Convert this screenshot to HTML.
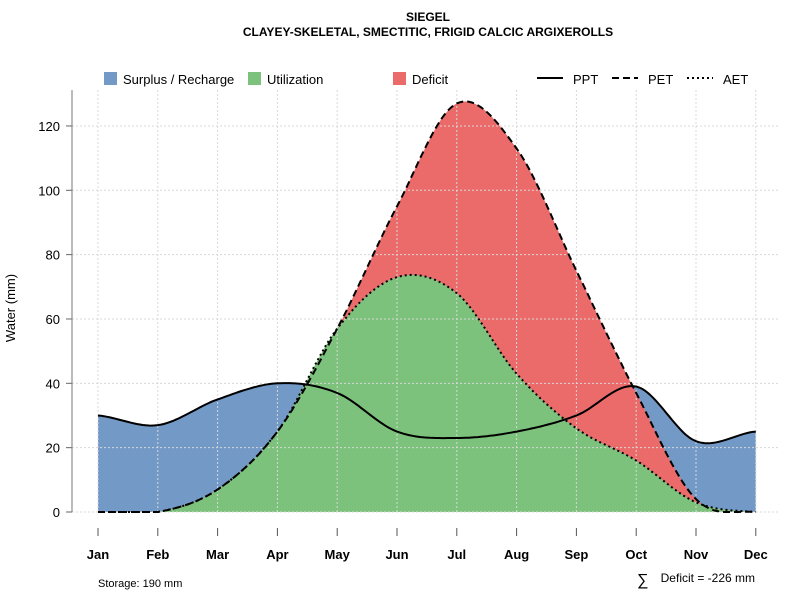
<!DOCTYPE html>
<html><head><meta charset="utf-8"><style>
body{margin:0;background:#fff;}
svg{display:block;font-family:"Liberation Sans",Arial,sans-serif;}
</style></head><body>
<svg id="chart" width="800" height="600">
<text x="428" y="21" text-anchor="middle" font-size="12" font-weight="bold">SIEGEL</text>
<text x="428" y="36" text-anchor="middle" font-size="12" font-weight="bold">CLAYEY-SKELETAL, SMECTITIC, FRIGID CALCIC ARGIXEROLLS</text>
<g id="areas"></g>
<g id="grid"></g>
<g id="lines"></g>
<g id="axes"></g>
<g font-size="13">
<rect x="104" y="72" width="13" height="13" fill="#7399c6"/>
<text x="123" y="84">Surplus / Recharge</text>
<rect x="248" y="72" width="13" height="13" fill="#7dc27c"/>
<text x="267" y="84">Utilization</text>
<rect x="393" y="72" width="13" height="13" fill="#eb6b6b"/>
<text x="412" y="84">Deficit</text>
<line x1="537" y1="78" x2="563" y2="78" stroke="#000" stroke-width="2"/>
<text x="573" y="84">PPT</text>
<line x1="612" y1="78" x2="638" y2="78" stroke="#000" stroke-width="2" stroke-dasharray="7,4"/>
<text x="648" y="84">PET</text>
<line x1="687" y1="78" x2="713" y2="78" stroke="#000" stroke-width="2" stroke-dasharray="2,3"/>
<text x="723" y="84">AET</text>
</g>
<text x="15" y="308" font-size="13" text-anchor="middle" transform="rotate(-90 15 308)">Water (mm)</text>
<text x="98" y="587" font-size="11">Storage: 190 mm</text>
<text x="637" y="585" font-size="16">∑</text>
<text x="755" y="582" font-size="12" text-anchor="end">Deficit = -226 mm</text>
</svg>
<script>
const months=["Jan","Feb","Mar","Apr","May","Jun","Jul","Aug","Sep","Oct","Nov","Dec"];
const ppt=[30,27,35,40,37,25,23,25,30,39,22,25];
const pet=[0,0,7,25,57,95,127,113,75,37,4,0];
const aet=[0,0,7,25,57,73,68,43,26,16,3,0];
const yTicks=[0,20,40,60,80,100,120];
const NS="http://www.w3.org/2000/svg";
const x=i=>98+i*59.8;
const y=v=>512-v*3.217;
function mk(tag,attrs,parent,name){const e=document.createElementNS(NS,tag);for(const k in attrs)e.setAttribute(k,attrs[k]);


parent.appendChild(e);return e;}
function smooth(d){const pts=[];const n=d.length;
for(let i=0;i<n-1;i++){const p0=d[Math.max(i-1,0)],p1=d[i],p2=d[i+1],p3=d[Math.min(i+2,n-1)];
for(let s=0;s<20;s++){const t=s/20,t2=t*t,t3=t2*t;
let v=0.5*((2*p1)+(-p0+p2)*t+(2*p0-5*p1+4*p2-p3)*t2+(-p0+3*p1-3*p2+p3)*t3);
pts.push([x(i+t),y(Math.max(0,v))]);}}
pts.push([x(n-1),y(d[n-1])]);return pts;}
const grid=document.getElementById('grid'),areas=document.getElementById('areas'),lines=document.getElementById('lines'),axes=document.getElementById('axes');
yTicks.forEach(v=>{mk('line',{x1:72,x2:780,y1:y(v),y2:y(v),stroke:'#d8d8d8','stroke-dasharray':'2,2'},grid,'grid-line-y');
mk('line',{x1:66,x2:72,y1:y(v),y2:y(v),stroke:'#666'},axes,'y-tick');
const t=mk('text',{x:60,y:y(v)+5,'text-anchor':'end','font-size':13},axes,'y-tick-label');t.textContent=v;});
months.forEach((m,i)=>{mk('line',{x1:x(i),x2:x(i),y1:90,y2:512,stroke:'#d8d8d8','stroke-dasharray':'2,2'},grid,'grid-line-x');
mk('line',{x1:x(i),x2:x(i),y1:528,y2:536,stroke:'#555'},axes,'x-tick');
const t=mk('text',{x:x(i),y:559,'text-anchor':'middle','font-size':13,'font-weight':'bold'},axes,'x-tick-label');t.textContent=m;});
mk('line',{x1:72,x2:72,y1:90,y2:512,stroke:'#777'},axes,'y-axis-line');
function area(d,fill,name){const p=smooth(d);const s='M'+x(0)+','+y(0)+' '+p.map(q=>'L'+q[0].toFixed(1)+','+q[1].toFixed(1)).join(' ')+' L'+x(d.length-1)+','+y(0)+'Z';mk('path',{d:s,fill:fill},areas,name);}
area(ppt,'#7399c6','surplus-area');area(pet,'#eb6b6b','deficit-area');area(aet,'#7dc27c','utilization-area');
function line(d,dash,name){const p=smooth(d);mk('path',{d:'M'+p.map(q=>q[0].toFixed(1)+','+q[1].toFixed(1)).join(' L'),fill:'none',stroke:'#000','stroke-width':2,'stroke-dasharray':dash},lines,name);}
line(ppt,'none','ppt-line');line(pet,'7,4','pet-line');line(aet,'2,3','aet-line');
</script>
</body></html>
